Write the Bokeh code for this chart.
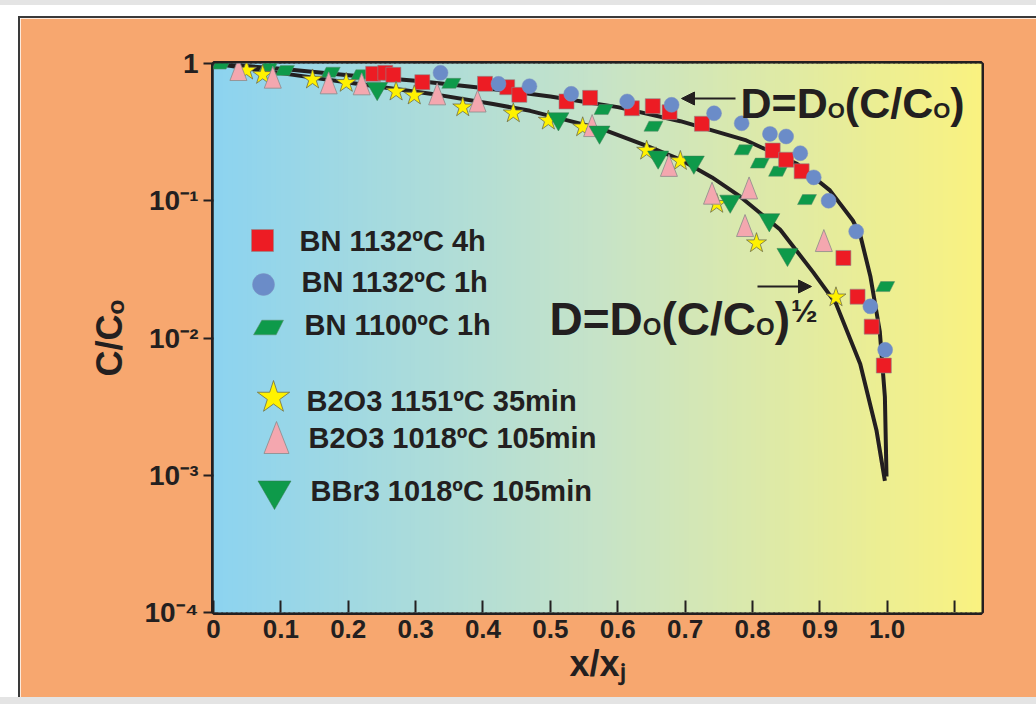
import numpy as np
from bokeh.plotting import figure
from bokeh.models import (FixedTicker, ColumnDataSource, Arrow, NormalHead,
                          Spacer, Whisker)
from bokeh.layouts import column, row
from bokeh.core.properties import value
from bokeh.embed import file_html
from bokeh.resources import INLINE

# ---------------- data ----------------
# BN 1132ºC 4h  (red squares)
sq_x = [0.237, 0.255, 0.267, 0.310, 0.403, 0.436, 0.454, 0.524, 0.559, 0.621,
        0.652, 0.677, 0.725, 0.830, 0.850, 0.873, 0.935, 0.956, 0.977, 0.995]
sq_y = [0.841, 0.855, 0.827, 0.731, 0.711, 0.672, 0.591, 0.529, 0.562, 0.472,
        0.489, 0.442, 0.364, 0.232, 0.199, 0.164, 0.0383, 0.0200, 0.0121, 0.0063]
# BN 1132ºC 1h  (blue circles)
ci_x = [0.337, 0.423, 0.469, 0.531, 0.614, 0.680, 0.743, 0.784, 0.826, 0.850,
        0.871, 0.891, 0.913, 0.954, 0.975, 0.997]
ci_y = [0.855, 0.711, 0.683, 0.601, 0.529, 0.500, 0.434, 0.367, 0.307, 0.294,
        0.222, 0.148, 0.100, 0.0597, 0.0170, 0.0082]
# BN 1100ºC 1h  (green parallelograms)
pa_x = [0.012, 0.082, 0.106, 0.174, 0.218, 0.353, 0.579, 0.653, 0.787, 0.811,
        0.838, 0.881, 0.997]
pa_y = [0.990, 0.956, 0.889, 0.864, 0.827, 0.717, 0.462, 0.349, 0.235, 0.188,
        0.164, 0.102, 0.0237]
# B2O3 1151ºC 35min  (yellow stars)
st_x = [0.049, 0.073, 0.147, 0.197, 0.271, 0.298, 0.370, 0.445, 0.497, 0.548,
        0.643, 0.693, 0.747, 0.806, 0.924]
st_y = [0.889, 0.827, 0.765, 0.723, 0.625, 0.585, 0.480, 0.434, 0.384, 0.343,
        0.232, 0.195, 0.0950, 0.0491, 0.0198]
# B2O3 1018ºC 105min  (pink triangles)
tr_x = [0.037, 0.088, 0.171, 0.220, 0.332, 0.392, 0.562, 0.676, 0.740, 0.795,
        0.789, 0.906]
tr_y = [0.904, 0.795, 0.723, 0.711, 0.601, 0.533, 0.353, 0.181, 0.1135, 0.124,
        0.0660, 0.0513]
# BBr3 1018ºC 105min  (green inverted triangles)
it_x = [0.243, 0.512, 0.573, 0.660, 0.713, 0.767, 0.825, 0.852]
it_y = [0.657, 0.395, 0.316, 0.208, 0.191, 0.0992, 0.0727, 0.0406]

# model curves
c1_x = [0, 0.1, 0.2, 0.3, 0.4, 0.5, 0.6, 0.693, 0.791, 0.866, 0.915, 0.949,
        0.960, 0.975, 0.989, 0.9966, 0.999]
c1_y = [1.0, 0.915, 0.82, 0.750, 0.664, 0.575, 0.481, 0.380, 0.275, 0.186,
        0.119, 0.0718, 0.0562, 0.0282, 0.0112, 0.00372, 0.00098]
c2_x = [0, 0.1, 0.197, 0.322, 0.415, 0.47, 0.578, 0.643, 0.693, 0.74, 0.782,
        0.841, 0.89, 0.924, 0.96, 0.984, 0.9966]
c2_y = [1.0, 0.851, 0.731, 0.603, 0.507, 0.452, 0.331, 0.251, 0.1995, 0.148,
        0.107, 0.0617, 0.0302, 0.0178, 0.00646, 0.00214, 0.00091]

legend_labels = ["BN 1132ºC 4h", "BN 1132ºC 1h", "BN 1100ºC 1h",
                 "B2O3 1151ºC  35min", "B2O3 1018ºC 105min", "BBr3  1018ºC 105min"]

x_ticks = [0, 0.1, 0.2, 0.3, 0.4, 0.5, 0.6, 0.7, 0.8, 0.9, 1.0]
x_tick_labels = ["0", "0.1", "0.2", "0.3", "0.4", "0.5", "0.6", "0.7", "0.8",
                 "0.9", "1.0"]
x_extra_ticks = [1.1]
y_ticks = [1e-4, 1e-3, 1e-2, 1e-1, 1.0]
y_tick_labels = ["10⁻⁴", "10⁻³", "10⁻²", "10⁻¹", "1"]

# ---------------- styling / layout ----------------
FONT = "Liberation Sans"
INK = "#231F20"
RED, BLUE, GREEN = "#ED1C24", "#6B8CC8", "#0E9A4A"
YEL, PINK = "#FFF200", "#F4A7AF"
ORANGE = "#F7A76F"

W, H = 1016, 679
L, R, T, B = 193, 55, 45, 85
FW, FH = W - L - R, H - T - B
X_END = 1.14
Y_START, Y_END = 1e-4, 1.0
DEC = np.log10(Y_END) - np.log10(Y_START)
PAGE_L, PAGE_T = 20 + L, 18 + T   # page position of frame corner

def px_x(px):
    return (px - PAGE_L) / FW * X_END

def px_y(py):
    return 10 ** (np.log10(Y_END) - (py - PAGE_T) / FH * DEC)

def shape(xs, ys, offs):
    kx, ky = X_END / FW, DEC / FH
    XS = [[x + dx * kx for dx, dy in offs] for x in xs]
    YS = [[y * 10 ** (dy * ky) for dx, dy in offs] for y in ys]
    return XS, YS

PARA = [(-9.5, -5), (4.5, -5), (9.5, 5), (-4.5, 5)]
PARA_L = [(-15, -7.3), (7.7, -7.3), (15, 7.3), (-6.7, 7.3)]
TRI = [(0, 11), (-8.5, -11), (8.5, -11)]
TRI_L = [(0, 16), (-12.5, -16), (12.5, -16)]

p = figure(width=W, height=H, x_range=(0, X_END), y_range=(Y_START, Y_END),
           y_axis_type="log", output_backend="svg", toolbar_location=None,
           min_border_left=L, min_border_right=R, min_border_top=T,
           min_border_bottom=B, background_fill_color="#C6E3C6",
           border_fill_color=ORANGE, outline_line_color=INK,
           outline_line_width=5)
p.grid.visible = False
p.styles = {"outline": "2px solid #3A3A3A"}

# gradient background of the frame
n = 160
edges = np.linspace(0, X_END, n + 1)
t = (edges[:-1] + edges[1:]) / 2 / X_END
stop_t = [0.0, 0.5, 1.0]
stop_c = [(140, 211, 240), (198, 227, 200), (250, 242, 128)]
cols = ["#%02x%02x%02x" % tuple(int(round(np.interp(tt, stop_t, [c[k] for c in stop_c])))
                                for k in range(3)) for tt in t]
p.quad(left=edges[:-1], right=edges[1:] + X_END / n * 0.6, bottom=Y_START,
       top=Y_END, fill_color=cols, line_color=None, level="image")

# curves
p.line(c1_x, c1_y, line_width=4, line_color=INK, line_join="round")
p.line(c2_x, c2_y, line_width=4, line_color=INK, line_join="round")

# data markers
p.patches(*shape(pa_x, pa_y, PARA), fill_color=GREEN, line_color="#5C8A6A",
          line_width=0.5)
p.scatter(sq_x, sq_y, marker="square", size=15, fill_color=RED,
          line_color="#8C8C8C", line_width=0.6)
p.scatter(ci_x, ci_y, marker="circle", size=15, fill_color=BLUE,
          line_color="#7F93C0", line_width=0.5)
p.scatter(st_x, st_y, marker="star", size=21, fill_color=YEL,
          line_color="#6D6D4D", line_width=0.8)
p.patches(*shape(tr_x, tr_y, TRI), fill_color=PINK, line_color="#8A8A8A",
          line_width=0.8)
p.scatter(it_x, it_y, marker="inverted_triangle", size=21, fill_color=GREEN,
          line_color="#3A7A50", line_width=0.5)

# legend (drawn by hand, positions in page pixels)
leg_mk = [(262, 240), (263, 284), (268, 327), (273, 397), (276, 437), (274, 490)]
leg_tx = [(299, 240), (301, 281), (304, 324), (306, 400), (308, 437), (310, 490)]
mx = [px_x(a) for a, b in leg_mk]
my = [px_y(b) for a, b in leg_mk]
p.scatter([mx[0]], [my[0]], marker="square", size=22, fill_color=RED,
          line_color="#8C8C8C", line_width=0.6)
p.scatter([mx[1]], [my[1]], marker="circle", size=22, fill_color=BLUE,
          line_color="#7F93C0", line_width=0.5)
p.patches(*shape([mx[2]], [my[2]], PARA_L), fill_color=GREEN,
          line_color="#5C8A6A", line_width=0.5)
p.scatter([mx[3]], [my[3]], marker="star", size=34, fill_color=YEL,
          line_color="#6D6D4D", line_width=0.8)
p.patches(*shape([mx[4]], [my[4]], TRI_L), fill_color=PINK,
          line_color="#8A8A8A", line_width=0.8)
p.scatter([mx[5]], [my[5]], marker="inverted_triangle", size=33,
          fill_color=GREEN, line_color="#3A7A50", line_width=0.5)
p.text(x=[px_x(a) for a, b in leg_tx], y=[px_y(b) for a, b in leg_tx],
       text=legend_labels, text_font=value(FONT), text_font_style="bold",
       text_font_size="29px", text_color=INK, text_baseline="middle",
       text_align="left")

# formulas (pieces laid out with Arial-bold advance widths)
ADV = {"D": .722, "=": .584, "(": .333, "C": .722, "/": .278, ")": .333,
       "O": .778}
CAP = 0.358   # half cap height / font size

def formula(px0, py_mid, F, S, half=False):
    parts = [("D=D", F), ("O", S), ("(C/C", F), ("O", S), (")", F)]
    txt, xo, yo, fs = [], [], [], []
    off = 0.0
    for s, size in parts:
        txt.append(s); xo.append(off); yo.append(CAP * (F - size))
        fs.append("%dpx" % size)
        off += sum(ADV[c] for c in s) * size
    if half:
        HS = 32
        txt.append("½"); xo.append(off + 1); yo.append(CAP * (F - HS) - 13)
        fs.append("%dpx" % HS)
    src = ColumnDataSource(dict(x=[px_x(px0)] * len(txt),
                                y=[px_y(py_mid)] * len(txt), text=txt,
                                xo=xo, yo=yo, fs=fs))
    p.text(x="x", y="y", text="text", x_offset="xo", y_offset="yo",
           text_font_size="fs", source=src, text_font=value(FONT),
           text_font_style="bold", text_color=INK, text_baseline="middle",
           text_align="left")

formula(740, 102, 43, 22)
formula(549, 318, 46, 24, half=True)

p.add_layout(Arrow(x_start=px_x(735), y_start=px_y(98), x_end=px_x(681),
                   y_end=px_y(98), line_width=2, line_color=INK,
                   end=NormalHead(size=13, fill_color=INK, line_color=INK)))
p.add_layout(Arrow(x_start=px_x(757), y_start=px_y(286), x_end=px_x(811),
                   y_end=px_y(286), line_width=2, line_color=INK,
                   end=NormalHead(size=13, fill_color=INK, line_color=INK)))

# ticks along the top edge (pointing outward) and the unlabelled 1.1 tick
all_ticks = x_ticks[1:] + x_extra_ticks
tsrc = ColumnDataSource(dict(base=all_ticks, lo=[Y_END] * len(all_ticks),
                             hi=[Y_END * 10 ** (8 * DEC / FH)] * len(all_ticks)))
p.add_layout(Whisker(base="base", lower="lo", upper="hi", source=tsrc,
                     dimension="height", lower_head=None, upper_head=None,
                     line_width=2, line_color=INK))
p.segment(x0=x_extra_ticks, x1=x_extra_ticks, y0=[Y_START] * len(x_extra_ticks),
          y1=[Y_START * 10 ** (12 * DEC / FH)] * len(x_extra_ticks),
          line_width=2, line_color=INK)

# axes
xa = p.xaxis[0]
xa.ticker = FixedTicker(ticks=x_ticks)
xa.major_label_overrides = dict(zip(x_ticks, x_tick_labels))
xa.major_tick_in = 12
xa.major_tick_out = 0
xa.major_tick_line_width = 2
xa.major_tick_line_color = INK
xa.minor_tick_line_color = None
xa.axis_line_color = None
xa.major_label_text_font = FONT
xa.major_label_text_font_style = "bold"
xa.major_label_text_font_size = "26px"
xa.major_label_text_color = INK
xa.major_label_standoff = 7
xa.axis_label = "x/xⱼ"
xa.axis_label_text_font = FONT
xa.axis_label_text_font_style = "bold"
xa.axis_label_text_font_size = "36px"
xa.axis_label_text_color = INK
xa.axis_label_standoff = 2

ya = p.yaxis[0]
ya.ticker = FixedTicker(ticks=y_ticks)
ya.major_label_overrides = dict(zip(y_ticks, y_tick_labels))
ya.major_tick_in = 0
ya.major_tick_out = 10
ya.major_tick_line_width = 2
ya.major_tick_line_color = INK
ya.minor_tick_line_color = None
ya.axis_line_color = None
ya.major_label_text_font = FONT
ya.major_label_text_font_style = "bold"
ya.major_label_text_font_size = "28px"
ya.major_label_text_color = INK
ya.major_label_standoff = 5
ya.axis_label = "C/Cₒ"
ya.axis_label_text_font = FONT
ya.axis_label_text_font_style = "bold"
ya.axis_label_text_font_size = "36px"
ya.axis_label_text_color = INK
ya.axis_label_standoff = 12

layout = column(
    Spacer(width=1036, height=5, styles={"background-color": "#E4E4E4"}),
    Spacer(width=1036, height=13),
    row(Spacer(width=20, height=H), p),
    Spacer(width=1036, height=7, styles={"background-color": "#E4E4E4"}),
)

open("out.html", "w").write(file_html(layout, INLINE))
